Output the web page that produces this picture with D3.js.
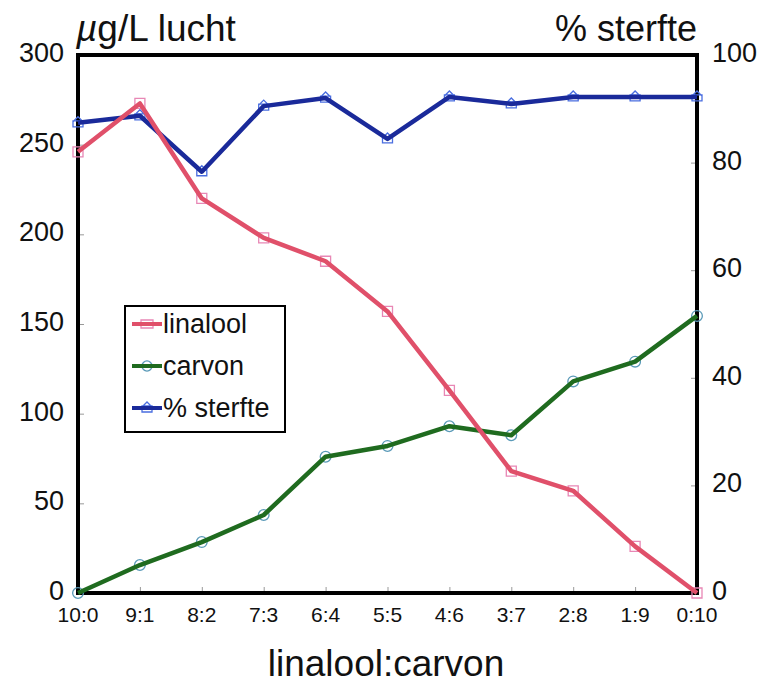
<!DOCTYPE html>
<html>
<head>
<meta charset="utf-8">
<script src="https://cdn.jsdelivr.net/npm/d3@7"></script>
<style>
  body { margin: 0; background: #fff; }
  text { font-family: "Liberation Sans", Arial, Helvetica, sans-serif; fill: #111; }
</style>
</head>
<body>
<svg id="chart" width="767" height="683"></svg>
<script>
// values
var ratios = ["10:0", "9:1", "8:2", "7:3", "6:4", "5:5", "4:6", "3:7", "2:8", "1:9", "0:10"];
var linalool = [246, 273, 220, 198, 185, 157, 113, 68, 57, 26, 0];
var carvon = [0, 15.6, 28.4, 43.5, 76, 82, 93, 88, 118, 129, 154.5];
var sterfte = [87.4, 88.7, 78.3, 90.5, 92, 84.4, 92.2, 90.9, 92.2, 92.2, 92.2];
var leftTicks = [0, 50, 100, 150, 200, 250, 300];
var rightTicks = [0, 20, 40, 60, 80, 100];

(function () {
  var red = "#e0506a", green = "#1f6b1f", blue = "#1a2a9a";

  var svg = d3.select("#chart");
  var left = 78, right = 697, plotTop = 55, bottom = 593;

  var x = d3.scalePoint().domain(ratios).range([left, right]);
  var yL = d3.scaleLinear().domain([0, 300]).range([bottom, plotTop]);
  var yR = d3.scaleLinear().domain([0, 100]).range([bottom, plotTop]);

  // small inside ticks
  var xAxis = svg.append("g").attr("transform", "translate(0," + bottom + ")")
    .call(d3.axisTop(x).tickSize(6).tickFormat(""));
  xAxis.select(".domain").remove();
  xAxis.selectAll("line").attr("stroke", "#999");

  var lAxis = svg.append("g").attr("transform", "translate(" + left + ",0)")
    .call(d3.axisRight(yL).tickValues(leftTicks).tickSize(6).tickFormat(""));
  lAxis.select(".domain").remove();
  lAxis.selectAll("line").attr("stroke", "#999");

  var rAxis = svg.append("g").attr("transform", "translate(" + right + ",0)")
    .call(d3.axisLeft(yR).tickValues(rightTicks).tickSize(6).tickFormat(""));
  rAxis.select(".domain").remove();
  rAxis.selectAll("line").attr("stroke", "#999");

  // frame
  svg.append("rect")
    .attr("x", left).attr("y", plotTop)
    .attr("width", right - left).attr("height", bottom - plotTop)
    .attr("fill", "none").attr("stroke", "#000").attr("stroke-width", 4);

  // tick labels
  svg.selectAll(".ltick").data(leftTicks).enter().append("text")
    .attr("x", 64).attr("y", function (d) { return yL(d) + 7; })
    .attr("text-anchor", "end").style("font-size", "27px")
    .text(function (d) { return d; });

  svg.selectAll(".rtick").data(rightTicks).enter().append("text")
    .attr("x", 712).attr("y", function (d) { return yR(d) + 7; })
    .style("font-size", "27px")
    .text(function (d) { return d; });

  svg.selectAll(".xtick").data(ratios).enter().append("text")
    .attr("x", function (d) { return x(d); }).attr("y", 622)
    .attr("text-anchor", "middle").style("font-size", "21px")
    .text(function (d) { return d; });

  // axis titles
  var yTitle = svg.append("text").attr("x", 76).attr("y", 41).style("font-size", "37px");
  yTitle.append("tspan").style("font-style", "italic").text("µ");
  yTitle.append("tspan").text("g/L lucht");
  svg.append("text").attr("x", 697).attr("y", 41).attr("text-anchor", "end").style("font-size", "36px").text("% sterfte");
  svg.append("text").attr("x", 386).attr("y", 676).attr("text-anchor", "middle").style("font-size", "37px").text("linalool:carvon");

  // markers
  var houseShape = "M-5,-1 L0,-6 L5,-1 M-5,-2 L-5,4 L5,4 L5,-2 Z";

  function drawSeries(values, scale, color, kind, mcolor) {
    var line = d3.line()
      .x(function (d, i) { return x(ratios[i]); })
      .y(function (d) { return scale(d); });

    var g = svg.append("g");
    g.selectAll("path.m").data(values).enter().append("path")
      .attr("transform", function (d, i) { return "translate(" + x(ratios[i]) + "," + scale(d) + ")"; })
      .attr("d", function () {
        if (kind == "square") return "M-5,-5 L5,-5 L5,5 L-5,5 Z";
        if (kind == "circle") return d3.symbol().type(d3.symbolCircle).size(90)();
        return houseShape;
      })
      .attr("fill", "none").attr("stroke", mcolor).attr("stroke-width", 1.3);

    g.append("path").datum(values)
      .attr("d", line)
      .attr("fill", "none").attr("stroke", color)
      .attr("stroke-width", 4.5).attr("stroke-linejoin", "round");
  }

  drawSeries(sterfte, yR, blue, "house", "#4a6ee0");
  drawSeries(carvon, yL, green, "circle", "#5a9ab8");
  drawSeries(linalool, yL, red, "square", "#e887b5");

  // legend
  var legendItems = [
    { name: "linalool", color: red, kind: "square", mcolor: "#e887b5" },
    { name: "carvon", color: green, kind: "circle", mcolor: "#5a9ab8" },
    { name: "% sterfte", color: blue, kind: "house", mcolor: "#4a6ee0" }
  ];

  svg.append("rect").attr("x", 125).attr("y", 306).attr("width", 160).attr("height", 126)
    .attr("fill", "#fff").attr("stroke", "#000").attr("stroke-width", 2);

  var lg = svg.selectAll(".leg").data(legendItems).enter().append("g")
    .attr("transform", function (d, i) { return "translate(0," + (324 + i * 42) + ")"; });

  lg.append("path")
    .attr("transform", "translate(147,0)")
    .attr("d", function (d) {
      if (d.kind == "square") return "M-6,-4 L6,-4 L6,4 L-6,4 Z";
      if (d.kind == "circle") return d3.symbol().type(d3.symbolCircle).size(80)();
      return houseShape;
    })
    .attr("fill", "none").attr("stroke", function (d) { return d.mcolor; }).attr("stroke-width", 1.3);
  lg.append("line").attr("x1", 132).attr("x2", 162).attr("y1", 0).attr("y2", 0)
    .attr("stroke", function (d) { return d.color; }).attr("stroke-width", 4);
  lg.append("text").attr("x", 163).attr("y", 9).style("font-size", "27px")
    .text(function (d) { return d.name; });
})();
</script>
</body>
</html>
